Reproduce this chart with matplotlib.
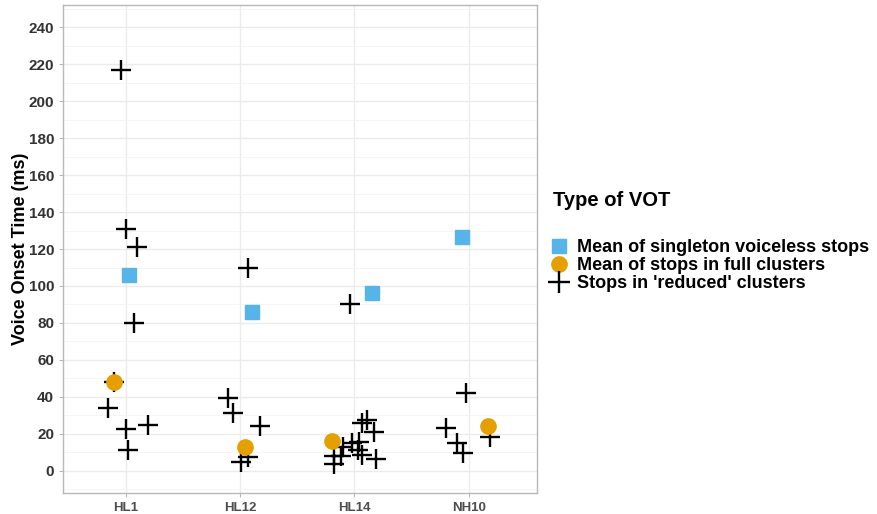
import matplotlib
matplotlib.use("Agg")
import matplotlib.pyplot as plt
from matplotlib.lines import Line2D
from matplotlib.ticker import MultipleLocator

plt.rcParams['font.family'] = ['Liberation Sans', 'DejaVu Sans']

# データ
speakers = ["HL1", "HL12", "HL14", "NH10"]

# 単独無声閉鎖音の平均
singleton_mean = [106, 86, 96, 126.5]
singleton_jit = [0.03, 0.10, 0.15, -0.06]

# 完全なクラスタ内の閉鎖音の平均
full_mean = [48, 13, 16, 24]
full_jit = [-0.10, 0.04, -0.20, 0.17]

# 'reduced' クラスタ内の閉鎖音 (話者ごと)
reduced_vot = {
    "HL1": [217, 131, 121, 80, 48, 34, 22.5, 25, 11],
    "HL12": [110, 39.5, 31, 24, 5, 7.6],
    "HL14": [90, 7.9, 3.6, 7.9, 13, 14.8, 15.7, 11.2, 8.5, 25.6, 27.4, 21.1, 6.1],
    "NH10": [42.3, 23.2, 15.1, 9.6, 18],
}
reduced_jit = {
    "HL1": [-0.04, 0.0, 0.10, 0.07, -0.10, -0.16, 0.0, 0.19, 0.02],
    "HL12": [0.07, -0.11, -0.06, 0.17, 0.01, 0.07],
    "HL14": [-0.04, -0.18, -0.18, -0.12, -0.10, -0.02, 0.04, 0.03, 0.07, 0.07, 0.11, 0.17, 0.19],
    "NH10": [-0.02, -0.20, -0.10, -0.05, 0.19],
}

blue = "#56B4E9"
orange = "#E69F00"

fig = plt.figure(figsize=(8.78, 5.14), dpi=100)
ax = fig.add_axes([0.0718, 0.041, 0.54, 0.949])

# 描画
for i, sp in enumerate(speakers):
    xs = [i + 1 + j for j in reduced_jit[sp]]
    ax.plot(xs, reduced_vot[sp], linestyle="none", marker="+", markersize=15,
            markeredgewidth=1.7, color="black", zorder=3)
xs = [i + 1 + j for i, j in enumerate(singleton_jit)]
ax.plot(xs, singleton_mean, linestyle="none", marker="s", markersize=10,
        color=blue, zorder=4)
xs = [i + 1 + j for i, j in enumerate(full_jit)]
ax.plot(xs, full_mean, linestyle="none", marker="o", markersize=11,
        color=orange, zorder=4)

# ax の設定
ax.set_xlim(0.45, 4.6)
ax.set_ylim(-12, 252)
ax.set_xticks(range(1, len(speakers) + 1))
ax.set_xticklabels(speakers)
ax.yaxis.set_major_locator(MultipleLocator(20))
ax.yaxis.set_minor_locator(MultipleLocator(10))
ax.grid(which="major", color="#EBEBEB", linewidth=1.0)
ax.grid(which="minor", axis="y", color="#F4F4F4", linewidth=0.6)
ax.set_axisbelow(True)
for s in ax.spines.values():
    s.set_color("#B8B8B8")
    s.set_linewidth(1.0)
ax.tick_params(which="major", length=3, color="#B8B8B8", labelcolor="#333333")
ax.tick_params(which="minor", length=0)
for lab in ax.get_yticklabels():
    lab.set_fontsize(11)
    lab.set_fontweight("bold")
for lab in ax.get_xticklabels():
    lab.set_fontsize(9.5)
    lab.set_fontweight("bold")
    lab.set_color("#4D4D4D")
ax.set_ylabel("Voice Onset Time (ms)", fontsize=13, fontweight="bold", labelpad=0)

# 凡例
handles = [
    Line2D([], [], linestyle="none", marker="s", markersize=10, color=blue),
    Line2D([], [], linestyle="none", marker="o", markersize=11, color=orange),
    Line2D([], [], linestyle="none", marker="+", markersize=16,
           markeredgewidth=1.7, color="black"),
]
labels = ["Mean of singleton voiceless stops", "Mean of stops in full clusters",
          "Stops in 'reduced' clusters"]
fig.text(553 / 878, 1 - 200 / 514, "Type of VOT", fontsize=14.5,
         fontweight="bold", ha="left", va="center")
leg = fig.legend(handles, labels, loc="upper left", bbox_to_anchor=(0.620, 0.545),
                 frameon=False, prop={"size": 13, "weight": "bold"},
                 labelspacing=0.05, handlelength=1.0, handletextpad=0.5,
                 borderaxespad=0, borderpad=0.3)

plt.savefig("out.png", dpi=100)
plt.close()
